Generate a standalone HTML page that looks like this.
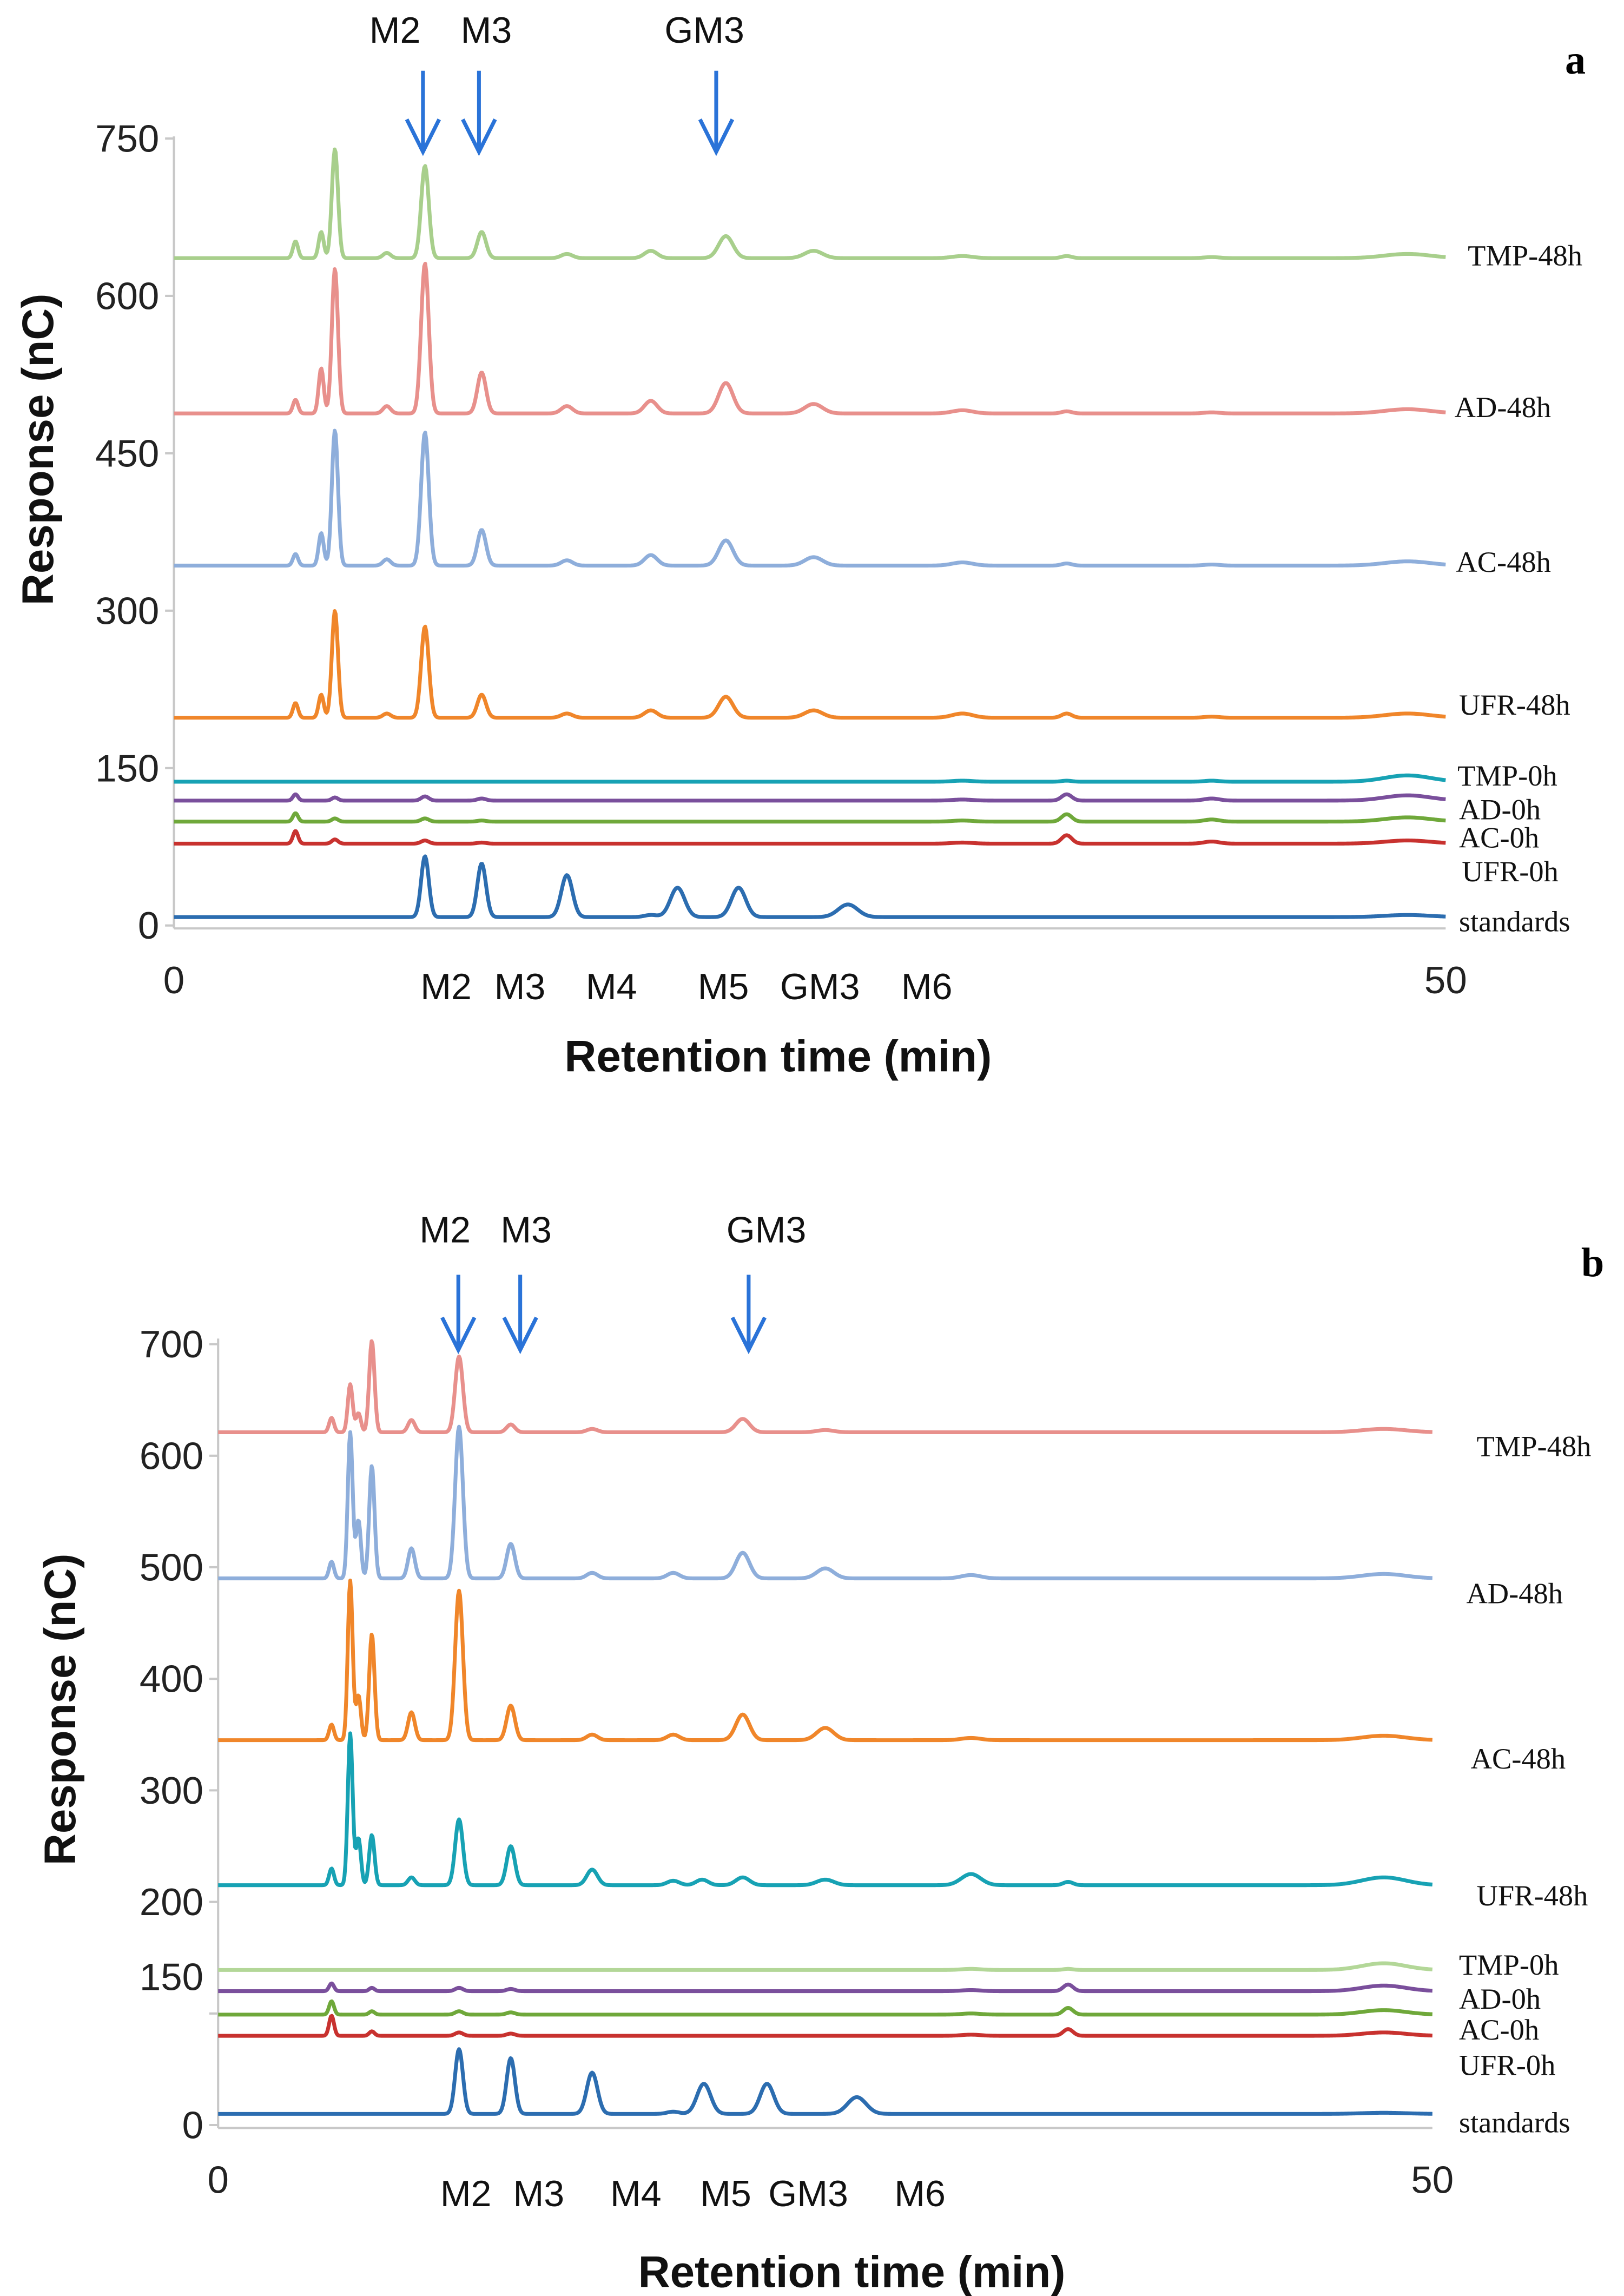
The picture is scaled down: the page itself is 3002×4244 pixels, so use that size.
<!DOCTYPE html>
<html><head><meta charset="utf-8"><style>
html,body{margin:0;padding:0;background:#fff}
svg{display:block}
.tk{font-family:"Liberation Sans",sans-serif;font-size:26px;fill:#222}
.sl{font-family:"Liberation Serif",serif;font-size:20px;fill:#111}
.ttl{font-family:"Liberation Sans",sans-serif;font-size:30px;font-weight:bold;fill:#111}
.ml{font-family:"Liberation Sans",sans-serif;font-size:25px;fill:#111}
</style></head><body>
<svg id="fig" width="3002" height="4244" viewBox="0 0 1102 1558">
<g id="pa"></g>
<g id="pb"></g>
</svg>
<script>
const peakTimesA = [4.78, 5.79, 6.33, 8.37, 9.87, 12.1, 15.45, 18.75, 19.8, 21.7, 22.2, 25.15, 26.5, 31.0, 35.1, 40.8, 48.5];
const peakWidthsA = [0.1, 0.1, 0.12, 0.15, 0.15, 0.17, 0.22, 0.25, 0.28, 0.28, 0.28, 0.35, 0.38, 0.4, 0.2, 0.3, 0.9];
const seriesNamesA = ["TMP-48h","AD-48h","AC-48h","UFR-48h","TMP-0h","AD-0h","AC-0h","UFR-0h","standards"];
const baselinesA = [636, 488, 343, 198, 137, 119, 99, 78, 8];
const tmp48A = [16, 25, 104, 5, 88, 25, 4, 7, 0, 21, 0, 7, 0, 2, 2, 1, 4];
const ad48A  = [13, 43, 138, 7, 143, 39, 7, 12, 0, 29, 0, 9, 0, 3, 2, 1, 4];
const ac48A  = [11, 31, 129, 6, 127, 34, 5, 10, 0, 24, 0, 8, 0, 3, 2, 1, 4];
const ufr48A = [14, 22, 102, 4, 87, 22, 4, 7, 0, 20, 0, 7, 0, 4, 4, 1, 4];
const tmp0A  = [0, 0, 0, 0, 0, 0, 0, 0, 0, 0, 0, 0, 0, 1, 1, 1, 6];
const ad0A   = [6, 0, 3, 0, 4, 2, 0, 0, 0, 0, 0, 0, 0, 1, 6, 2, 5];
const ac0A   = [8, 0, 3, 0, 3, 1, 0, 0, 0, 0, 0, 0, 0, 1, 7, 2, 4];
const ufr0A  = [12, 0, 4, 0, 3, 1, 0, 0, 0, 0, 0, 0, 0, 1, 8, 2, 3];
const stdA   = [0, 0, 0, 0, 58, 51, 40, 2, 28, 0, 28, 0, 12, 0, 0, 0, 2];
const yTicksA = [0, 150, 300, 450, 600, 750];
const stdLabelsA = ["M2", "M3", "M4", "M5", "GM3", "M6"];
const stdLabelTimesA = [10.7, 13.6, 17.2, 21.6, 25.4, 29.6];

const peakTimesB = [4.67, 5.44, 5.78, 6.33, 7.96, 9.92, 12.05, 15.4, 18.74, 19.93, 20.0, 21.6, 22.6, 25.0, 26.3, 31.0, 35.0, 48.0];
const peakWidthsB = [0.1, 0.1, 0.1, 0.11, 0.14, 0.16, 0.17, 0.22, 0.25, 0.25, 0.28, 0.28, 0.28, 0.35, 0.38, 0.4, 0.2, 0.9];
const seriesNamesB = ["TMP-48h","AD-48h","AC-48h","UFR-48h","TMP-0h","AD-0h","AC-0h","UFR-0h","standards"];
const baselinesB = [621, 490, 345, 215, 139, 120, 99, 80, 10];
const tmp48B = [13, 43, 17, 82, 11, 68, 7, 3, 0, 0, 0, 12, 0, 2, 0, 0, 0, 3];
const ad48B  = [15, 131, 52, 101, 27, 136, 31, 5, 5, 0, 0, 23, 0, 9, 0, 3, 0, 4];
const ac48B  = [14, 143, 40, 95, 25, 134, 31, 5, 5, 0, 0, 23, 0, 11, 0, 2, 0, 4];
const ufr48B = [15, 136, 42, 45, 7, 59, 35, 14, 4, 5, 0, 7, 0, 5, 0, 10, 3, 7];
const tmp0B  = [0, 0, 0, 0, 0, 0, 0, 0, 0, 0, 0, 0, 0, 0, 0, 1, 1, 6];
const ad0B   = [7, 0, 0, 3, 0, 3, 2, 0, 0, 0, 0, 0, 0, 0, 0, 1, 6, 5];
const ac0B   = [12, 0, 0, 3, 0, 3, 2, 0, 0, 0, 0, 0, 0, 0, 0, 1, 6, 4];
const ufr0B  = [18, 0, 0, 4, 0, 3, 2, 0, 0, 0, 0, 0, 0, 0, 0, 1, 6, 3];
const stdB   = [0, 0, 0, 0, 0, 58, 50, 37, 2, 0, 27, 0, 27, 0, 15, 0, 0, 1];
const yTicksB = [0, 100, 200, 300, 400, 500, 600, 700];
const yTickLabelsB = ["0", "", "200", "300", "400", "500", "600", "700"];
const stdLabelsB = ["M2", "M3", "M4", "M5", "GM3", "M6"];
const stdLabelTimesB = [10.2, 13.2, 17.2, 20.9, 24.3, 28.9];
const xTicks = [0, 50];

const NS = "http://www.w3.org/2000/svg";
function mk(parent, tag, attrs, text){
  const e = document.createElementNS(NS, tag);
  for (const k in attrs) e.setAttribute(k, attrs[k]);
  if (text !== undefined) e.textContent = text;
  parent.appendChild(e);
  return e;
}
function tracePath(xs, ys, base, times, widths, heights){
  let d = "";
  for (let t = 0; t <= 50.0001; t += 0.04){
    let v = base;
    for (let i = 0; i < times.length; i++){
      if (!heights[i]) continue;
      const z = (t - times[i]) / widths[i];
      if (Math.abs(z) < 6) v += heights[i] * Math.exp(-0.5 * z * z);
    }
    d += (d ? "L" : "M") + xs(t).toFixed(2) + " " + ys(v).toFixed(2);
  }
  return d;
}

function panel(g, cfg){
  const xs = t => cfg.x0 + (t / 50) * (cfg.x1 - cfg.x0);
  const ys = v => cfg.y0 - v * cfg.k;
  const ax = mk(g, "line", {x1: cfg.x0, y1: ys(cfg.yTop), x2: cfg.x0, y2: cfg.y0 + 2, stroke: "#c8c8c8", "stroke-width": 1.5});
  
  
  const bx = mk(g, "line", {x1: cfg.x0, y1: cfg.y0 + 2, x2: cfg.x1, y2: cfg.y0 + 2, stroke: "#c8c8c8", "stroke-width": 1.5});
  
  
  cfg.yTicks.forEach((v, i) => {
    const tl = mk(g, "line", {x1: cfg.x0 - 6, y1: ys(v), x2: cfg.x0, y2: ys(v), stroke: "#c8c8c8", "stroke-width": 1.5});
    
    
    const lab = cfg.yLabels ? cfg.yLabels[i] : String(v);
    if (lab) {
      const tx = mk(g, "text", {x: cfg.x0 - 10, y: ys(v) + 9, "text-anchor": "end", class: "tk"}, lab);
      
      
    }
  });
  if (cfg.extraLabel) {
    const tx = mk(g, "text", {x: cfg.x0 - 10, y: ys(cfg.extraLabel.v) + 9, "text-anchor": "end", class: "tk"}, cfg.extraLabel.t);
    
    
  }
  xTicks.forEach(t => {
    const tx = mk(g, "text", {x: xs(t), y: cfg.y0 + 46, "text-anchor": "middle", class: "tk", "font-size": "23"}, String(t));
    
    
  });
  cfg.series.forEach((s, i) => {
    const p = mk(g, "path", {d: tracePath(xs, ys, cfg.bases[i], cfg.times, cfg.widths, s.h), fill: "none", stroke: s.c, "stroke-width": 2.6, "stroke-linejoin": "round"});
    
    
    const tx = mk(g, "text", {x: s.lx, y: s.ly, class: "sl"}, cfg.names[i]);
    
    
  });
  const yt = mk(g, "text", {x: 0, y: 0, class: "ttl", "text-anchor": "middle", transform: `translate(${cfg.ytx},${cfg.yty}) rotate(-90)`}, "Response (nC)");
  
  
  const xt = mk(g, "text", {x: cfg.xtx, y: cfg.xty, class: "ttl", "text-anchor": "middle"}, "Retention time (min)");
  
  
  cfg.mLabels.forEach((m, i) => {
    const ml = mk(g, "text", {x: xs(cfg.mTimes[i]), y: cfg.mly, class: "ml", "text-anchor": "middle"}, m);
    
    
  });
  cfg.arrows.forEach(a => {
    const ar = mk(g, "path", {d: `M${a.x} ${a.y1}L${a.x} ${a.y2}M${a.x-11} ${a.y2-22}L${a.x} ${a.y2}L${a.x+11} ${a.y2-22}`, fill: "none", stroke: "#2a73d8", "stroke-width": 2.6});
    
    
    const tx = mk(g, "text", {x: a.lx, y: a.ly, class: "ml", "text-anchor": "middle"}, a.t);
    
    
  });
  const pl = mk(g, "text", {x: cfg.plx, y: cfg.ply, "font-family": "Liberation Serif, serif", "font-weight": "bold", "font-size": "28"}, cfg.pl);
  
  
}

panel(document.getElementById("pa"), {
  x0: 118, x1: 981, y0: 628, k: 0.712, yTop: 752, yTicks: yTicksA,
  names: seriesNamesA, bases: baselinesA, times: peakTimesA, widths: peakWidthsA,
  series: [
    {h: tmp48A, c: "#a8cf8c", lx: 996, ly: 180},
    {h: ad48A, c: "#e8908c", lx: 987, ly: 283},
    {h: ac48A, c: "#8eaedb", lx: 988, ly: 388},
    {h: ufr48A, c: "#f0862a", lx: 990, ly: 485},
    {h: tmp0A, c: "#17a2b4", lx: 989, ly: 533},
    {h: ad0A, c: "#7a4f9c", lx: 990, ly: 556},
    {h: ac0A, c: "#6fa83a", lx: 990, ly: 575},
    {h: ufr0A, c: "#c8322f", lx: 992, ly: 598},
    {h: stdA, c: "#2c6db0", lx: 990, ly: 632}
  ],
  ytx: 36, yty: 305, xtx: 528, xty: 727,
  mLabels: stdLabelsA, mTimes: stdLabelTimesA, mly: 678,
  arrows: [{x: 287, y1: 48, y2: 103, t: "M2", lx: 268, ly: 29}, {x: 325, y1: 48, y2: 103, t: "M3", lx: 330, ly: 29}, {x: 486, y1: 48, y2: 103, t: "GM3", lx: 478, ly: 29}],
  pl: "a", plx: 1062, ply: 50
});
panel(document.getElementById("pb"), {
  x0: 148, x1: 972, y0: 1442, k: 0.757, yTop: 705, yTicks: yTicksB, yLabels: yTickLabelsB,
  extraLabel: {v: 133, t: "150"},
  names: seriesNamesB, bases: baselinesB, times: peakTimesB, widths: peakWidthsB,
  series: [
    {h: tmp48B, c: "#e8908c", lx: 1002, ly: 988},
    {h: ad48B, c: "#8eaedb", lx: 995, ly: 1088},
    {h: ac48B, c: "#f0862a", lx: 998, ly: 1200},
    {h: ufr48B, c: "#17a2b4", lx: 1002, ly: 1293},
    {h: tmp0B, c: "#b3d798", lx: 990, ly: 1340},
    {h: ad0B, c: "#7a4f9c", lx: 990, ly: 1363},
    {h: ac0B, c: "#6fa83a", lx: 990, ly: 1384},
    {h: ufr0B, c: "#c8322f", lx: 990, ly: 1408},
    {h: stdB, c: "#2c6db0", lx: 990, ly: 1447}
  ],
  ytx: 51, yty: 1160, xtx: 578, xty: 1552,
  mLabels: stdLabelsB, mTimes: stdLabelTimesB, mly: 1497,
  arrows: [{x: 311, y1: 865, y2: 916, t: "M2", lx: 302, ly: 843}, {x: 353, y1: 865, y2: 916, t: "M3", lx: 357, ly: 843}, {x: 508, y1: 865, y2: 916, t: "GM3", lx: 520, ly: 843}],
  pl: "b", plx: 1073, ply: 866
});
</script>
</body></html>
